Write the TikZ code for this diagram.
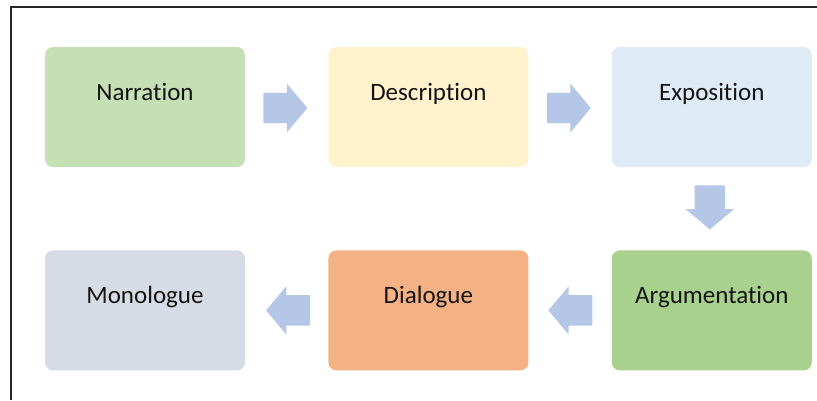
\documentclass[tikz,border=0pt]{standalone}
\usepackage{fontspec}
\setmainfont[Ligatures=NoCommon]{Carlito}
\usepackage{xcolor}
\definecolor{narrfill}{HTML}{C5E0B4}
\definecolor{descfill}{HTML}{FFF2CC}
\definecolor{expofill}{HTML}{DEEBF7}
\definecolor{argufill}{HTML}{A9D18E}
\definecolor{dialfill}{HTML}{F4B183}
\definecolor{monofill}{HTML}{D6DCE5}
\definecolor{arrowfill}{HTML}{B4C7E7}
\definecolor{textcolor}{HTML}{141414}
\usepackage{tikz}
\usetikzlibrary{positioning,shapes.arrows,calc}
\tikzset{
    textblock/.style={
        rectangle,
        draw=none,
        text=textcolor,
        minimum height=120pt,
        minimum width=200pt,
        text height=17pt,
        text depth=30pt,
        align=center,
        rounded corners=8pt,
        font=\fontsize{25}{30}\selectfont,
    },
    flowarrow/.style={
        single arrow,
        draw=none,
        fill=arrowfill,
        inner sep=15pt,
        minimum height=44pt,
        single arrow head extend=9pt,
        single arrow tip angle=100,
        single arrow head indent=0pt,
        anchor=tail,
    },
}

\begin{document}
\begin{tikzpicture}[x=1pt, y=-1pt, node distance=83pt]
    \useasboundingbox (0,0) rectangle (817,400);

    % Frame
    \draw[line width=2pt, black!85] (11,400) -- (11,7) -- (817,7);

    % Top row
    \node[textblock, fill=narrfill] (narr) at (145,107) {Narration};
    \node[textblock, fill=descfill, right=of narr] (desc) {Description};
    \node[textblock, fill=expofill, right=of desc] (expo) {Exposition};

    % Bottom row
    \node[textblock, fill=argufill, below=of expo] (argu) {Argumentation};
    \node[textblock, fill=dialfill, left=of argu] (dial) {Dialogue};
    \node[textblock, fill=monofill, left=of dial] (mono) {Monologue};

    % Block arrows
    \node[flowarrow] (a1) at ($(narr.east)+(18,1)$) {};
    \node[flowarrow] (a2) at ($(desc.east)+(18,1)$) {};
    \node[flowarrow, shape border rotate=270] (a3) at ($(expo.south)+(-2,18)$) {};
    \node[flowarrow, shape border rotate=180] (a4) at ($(argu.west)+(-19,0)$) {};
    \node[flowarrow, shape border rotate=180] (a5) at ($(dial.west)+(-18,0)$) {};

\end{tikzpicture}
\end{document}
